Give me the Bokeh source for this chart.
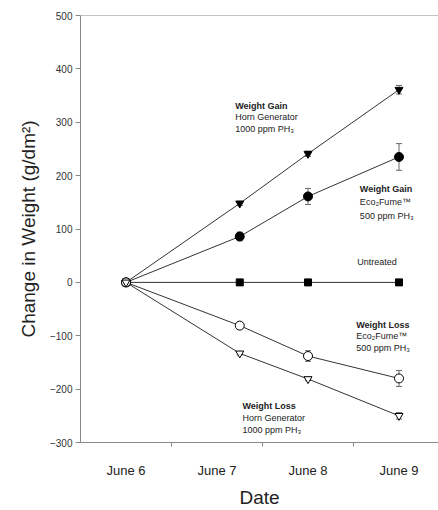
from bokeh.plotting import figure
from bokeh.models import Range1d, FixedTicker, Whisker, ColumnDataSource, Span, TeeHead
from bokeh.core.properties import value
from bokeh.embed import file_html
from bokeh.resources import INLINE

# ---- data ----
days = [6, 7.25, 8, 9]
tick_days = [6, 7, 8, 9]
tick_labels = ["June 6", "June 7", "June 8", "June 9"]
y_ticks = [-300, -200, -100, 0, 100, 200, 300, 400, 500]

horn_gain = [0, 148, 241, 361]
horn_gain_err = [0, 4, 5, 8]
eco_gain = [0, 86, 161, 235]
eco_gain_err = [0, 8, 15, 25]
untreated = [0, 0, 0, 0]
eco_loss = [0, -81, -138, -180]
eco_loss_err = [0, 5, 10, 15]
horn_loss = [0, -133, -181, -250]
horn_loss_err = [0, 3, 3, 6]

# annotation texts: (x in days, y in value, text, bold)
notes = [
    (7.20, 331, "Weight Gain", True),
    (7.20, 309, "Horn Generator", False),
    (7.20, 287, "1000 ppm PH\u2083", False),
    (8.57, 175, "Weight Gain", True),
    (8.57, 151, "Eco\u2082Fume\u2122", False),
    (8.57, 125, "500 ppm PH\u2083", False),
    (8.54, 38, "Untreated", False),
    (8.53, -79, "Weight Loss", True),
    (8.53, -101, "Eco\u2082Fume\u2122", False),
    (8.53, -123, "500 ppm PH\u2083", False),
    (7.28, -232, "Weight Loss", True),
    (7.28, -254, "Horn Generator", False),
    (7.28, -276, "1000 ppm PH\u2083", False),
]

FONT = "Liberation Sans"
LINE = "#333333"
AXIS = "#888888"

p = figure(width=438, height=510, output_backend="svg", toolbar_location=None,
           x_range=Range1d(5.5, 9.434), y_range=Range1d(-300, 500),
           min_border_left=80, min_border_right=0, min_border_top=15, min_border_bottom=60)
p.outline_line_color = None
p.xgrid.visible = False
p.ygrid.visible = False
p.background_fill_color = "white"
p.border_fill_color = "white"

p.add_layout(Span(location=500, dimension="width", line_color=AXIS, line_width=1))

series = [
    (horn_gain, horn_gain_err, "inverted_triangle", "black", 8),
    (eco_gain, eco_gain_err, "circle", "black", 9),
    (untreated, None, "square", "black", 7),
    (eco_loss, eco_loss_err, "circle", "white", 9),
    (horn_loss, horn_loss_err, "inverted_triangle", "white", 8),
]

for vals, errs, marker, fill, size in series:
    p.line(days, vals, line_color=LINE, line_width=1)

for vals, errs, marker, fill, size in series:
    if errs is None:
        continue
    xs = [d for d, e in zip(days, errs) if e > 0]
    up = [v + e for v, e in zip(vals, errs) if e > 0]
    lo = [v - e for v, e in zip(vals, errs) if e > 0]
    src = ColumnDataSource(dict(x=xs, upper=up, lower=lo))
    w = Whisker(source=src, base="x", upper="upper", lower="lower", dimension="height",
                line_color="#666666", line_width=1,
                upper_head=TeeHead(size=6, line_color="#666666", line_width=1),
                lower_head=TeeHead(size=6, line_color="#666666", line_width=1))
    p.add_layout(w)

for vals, errs, marker, fill, size in series:
    p.scatter(days, vals, marker=marker, size=size, fill_color=fill,
              line_color="black", line_width=1)

for x, y, t, bold in notes:
    p.text([x], [y], text=[t], text_font=value(FONT), text_font_size="9px",
           text_font_style="bold" if bold else "normal",
           text_align="left", text_baseline="middle", text_color="#222222")

# y axis
p.yaxis.ticker = FixedTicker(ticks=y_ticks)
p.yaxis.minor_tick_line_color = None
p.yaxis.major_tick_out = 5
p.yaxis.major_tick_in = 0
p.yaxis.major_tick_line_color = AXIS
p.yaxis.axis_line_color = AXIS
p.yaxis.major_label_text_font = FONT
p.yaxis.major_label_text_font_size = "10px"
p.yaxis.major_label_text_color = "#333333"
p.yaxis.major_label_standoff = 3
p.yaxis.axis_label = "Change in Weight (g/dm\u00b2)"
p.yaxis.axis_label_text_font = FONT
p.yaxis.axis_label_text_font_size = "19px"
p.yaxis.axis_label_text_font_style = "normal"
p.yaxis.axis_label_text_color = "#222222"
p.yaxis.axis_label_standoff = 8

# x axis
p.xaxis.ticker = FixedTicker(ticks=tick_days, minor_ticks=[6.5, 7.5, 8.5])
p.xaxis.major_label_overrides = {d: l for d, l in zip(tick_days, tick_labels)}
p.xaxis.major_tick_line_color = None
p.xaxis.major_tick_out = 0
p.xaxis.major_tick_in = 0
p.xaxis.minor_tick_line_color = AXIS
p.xaxis.minor_tick_out = 4
p.xaxis.minor_tick_in = 0
p.xaxis.axis_line_color = AXIS
p.xaxis.major_label_text_font = FONT
p.xaxis.major_label_text_font_size = "13px"
p.xaxis.major_label_text_color = "#222222"
p.xaxis.major_label_standoff = 16
p.xaxis.axis_label = "Date"
p.xaxis.axis_label_text_font = FONT
p.xaxis.axis_label_text_font_size = "19px"
p.xaxis.axis_label_text_font_style = "normal"
p.xaxis.axis_label_text_color = "#222222"
p.xaxis.axis_label_standoff = 6

open("out.html", "w").write(file_html(p, INLINE))
